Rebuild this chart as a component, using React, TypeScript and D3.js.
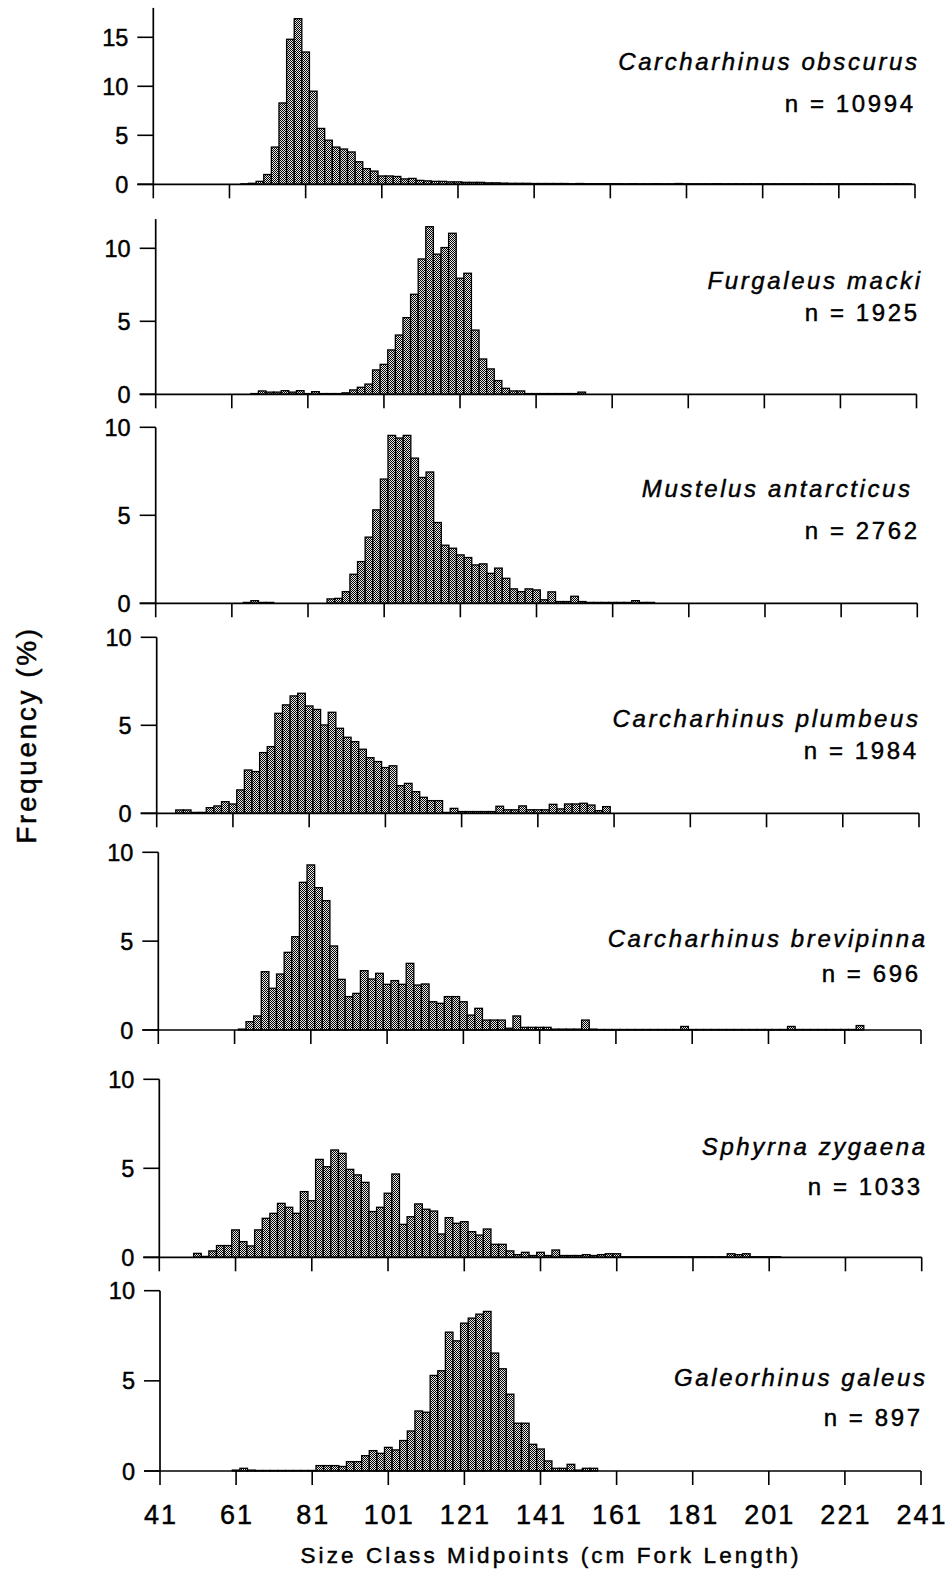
import React from "react";
import * as d3 from "d3";

// ---------- DATA (frequency %, 2-cm size classes; first value at given midpoint) ----------
const speciesNames = [
  "Carcharhinus obscurus",
  "Furgaleus macki",
  "Mustelus antarcticus",
  "Carcharhinus plumbeus",
  "Carcharhinus brevipinna",
  "Sphyrna zygaena",
  "Galeorhinus galeus",
];
const sampleSizes = ["n = 10994", "n = 1925", "n = 2762", "n = 1984", "n = 696", "n = 1033", "n = 897"];

const xTickValues = [41, 61, 81, 101, 121, 141, 161, 181, 201, 221, 241];

const obscurusStart = 65;
const obscurusFreq = [
  0.05, 0.1, 0.3, 1.0, 3.8, 8.3, 14.8, 16.9, 13.5, 9.5, 5.7, 4.5, 3.8, 3.6, 3.3, 2.3, 1.6, 1.35,
  0.85, 0.85, 0.8, 0.55, 0.6, 0.4, 0.35, 0.3, 0.3, 0.25, 0.25, 0.2, 0.2, 0.2, 0.15, 0.15, 0.12,
  0.1, 0.1, 0.1, 0.08, 0.08, 0.08, 0.08, 0.08, 0.06, 0.08, 0.06, 0.06, 0.06, 0.06, 0.06, 0.05,
  0.06, 0.05, 0.05, 0.06, 0.05, 0.05, 0.08, 0.05, 0.05, 0.05, 0.05, 0.06, 0.05, 0.05, 0.05, 0.05,
  0.05, 0.05, 0.05, 0.05, 0.05, 0.05, 0.05, 0.05, 0.05, 0.05, 0.05, 0.05, 0.05, 0.05, 0.05, 0.05,
  0.05, 0.05, 0.05, 0.05, 0.05,
];

const mackiStart = 67;
const mackiFreq = [
  0.05, 0.23, 0.15, 0.15, 0.25, 0.15, 0.25, 0.05, 0.18, 0.05, 0.05, 0.05, 0.1, 0.3, 0.48, 0.7,
  1.67, 2.05, 3.04, 4.06, 5.25, 6.85, 9.27, 11.48, 9.6, 10.05, 11.03, 7.95, 8.29, 4.4, 2.42,
  1.74, 0.94, 0.41, 0.23, 0.23, 0.05, 0.05, 0.05, 0.05, 0.05, 0.05, 0.05, 0.15,
];

const antarcticusStart = 65;
const antarcticusFreq = [
  0.05, 0.15, 0.05, 0.05, 0, 0, 0, 0, 0, 0, 0, 0.25, 0.28, 0.66, 1.65, 2.37, 3.76, 5.31, 7.06,
  9.54, 9.39, 9.54, 8.25, 7.15, 7.46, 4.59, 3.3, 3.13, 2.75, 2.6, 2.18, 2.24, 1.7, 2.0, 1.42,
  0.82, 0.66, 0.82, 0.76, 0.2, 0.65, 0.1, 0.1, 0.4, 0.1, 0.05, 0.05, 0.05, 0.05, 0.05, 0.05,
  0.15, 0.05, 0.05,
];

const plumbeusStart = 47;
const plumbeusFreq = [
  0.19, 0.19, 0.05, 0.05, 0.32, 0.42, 0.66, 0.53, 1.33, 2.46, 2.37, 3.45, 3.79, 5.68, 6.16,
  6.67, 6.82, 6.1, 5.9, 5.02, 5.74, 4.83, 4.32, 4.07, 3.64, 3.16, 2.94, 2.6, 2.7, 1.57, 1.7,
  1.23, 0.91, 0.72, 0.72, 0.05, 0.28, 0.1, 0.1, 0.1, 0.1, 0.1, 0.4, 0.2, 0.2, 0.42, 0.2, 0.2,
  0.2, 0.51, 0.25, 0.53, 0.53, 0.57, 0.47, 0.15, 0.38,
];

const brevipinnaStart = 63;
const brevipinnaFreq = [
  0.05, 0.47, 0.79, 3.28, 2.35, 3.15, 4.37, 5.25, 8.31, 9.29, 8.01, 7.28, 4.73, 2.85, 1.88,
  2.06, 3.34, 2.87, 3.19, 2.57, 2.78, 2.57, 3.75, 2.53, 2.59, 1.59, 1.5, 1.88, 1.88, 1.59, 0.84,
  1.22, 0.56, 0.56, 0.56, 0.1, 0.79, 0.15, 0.15, 0.15, 0.15, 0.05, 0.05, 0.05, 0.05, 0.56, 0.05,
  0.03, 0.03, 0.03, 0.03, 0.03, 0.03, 0.03, 0.03, 0.03, 0.03, 0.03, 0.2, 0.03, 0.03, 0.03, 0.03,
  0.03, 0.03, 0.03, 0.03, 0.03, 0.03, 0.03, 0.03, 0.03, 0.2, 0.03, 0.03, 0.03, 0.03, 0.03, 0.03,
  0.03, 0.03, 0.25,
];

const zygaenaStart = 51;
const zygaenaFreq = [
  0.22, 0.05, 0.36, 0.66, 0.66, 1.54, 0.88, 0.64, 1.54, 2.19, 2.47, 3.03, 2.81, 2.47, 3.69,
  3.18, 5.5, 5.09, 6.03, 5.84, 4.94, 4.63, 4.21, 2.57, 2.81, 3.6, 4.68, 1.85, 2.28, 3.0, 2.7,
  2.6, 1.31, 2.23, 1.91, 2.0, 1.44, 1.25, 1.59, 0.73, 0.73, 0.36, 0.15, 0.28, 0.1, 0.28, 0.1,
  0.41, 0.1, 0.1, 0.1, 0.15, 0.1, 0.15, 0.2, 0.2, 0.03, 0.03, 0.03, 0.03, 0.03, 0.03, 0.03,
  0.03, 0.03, 0.03, 0.03, 0.03, 0.03, 0.03, 0.2, 0.15, 0.2, 0.03, 0.03, 0.03, 0.03,
];

const galeusStart = 61;
const galeusFreq = [
  0.05, 0.15, 0.05, 0.03, 0.03, 0.03, 0.03, 0.03, 0.03, 0.03, 0.03, 0.3, 0.3, 0.3, 0.25, 0.52,
  0.52, 0.85, 1.13, 0.98, 1.31, 1.17, 1.69, 2.22, 3.33, 3.26, 5.3, 5.56, 7.7, 7.22, 8.2, 8.48,
  8.7, 8.85, 6.54, 5.67, 4.26, 2.65, 2.65, 1.48, 1.22, 0.56, 0.15, 0.15, 0.37, 0.05, 0.15, 0.15,
];

const seriesStarts = [obscurusStart, mackiStart, antarcticusStart, plumbeusStart, brevipinnaStart, zygaenaStart, galeusStart];
const seriesFreqs = [obscurusFreq, mackiFreq, antarcticusFreq, plumbeusFreq, brevipinnaFreq, zygaenaFreq, galeusFreq];
const yMaxes = [18, 12, 10, 10, 10, 10, 10];
const yTickSets = [[0, 5, 10, 15], [0, 5, 10], [0, 5, 10], [0, 5, 10], [0, 5, 10], [0, 5, 10], [0, 5, 10]];

// ---------- LAYOUT ----------
const layout = [
  { zeroY: 184.3, unit: 9.8, x0: 153.3, x1: 915, nameX: 917, nameY: 70, nX: 913, nY: 112 },
  { zeroY: 394.3, unit: 14.6, x0: 155.7, x1: 916.5, nameX: 920, nameY: 289, nX: 917, nY: 320.5 },
  { zeroY: 603.3, unit: 17.6, x0: 155.7, x1: 917.3, nameX: 910, nameY: 497, nX: 917, nY: 539 },
  { zeroY: 813.3, unit: 17.6, x0: 156.7, x1: 919, nameX: 918, nameY: 727, nX: 916, nY: 759 },
  { zeroY: 1030, unit: 17.77, x0: 158.3, x1: 921, nameX: 925, nameY: 946.5, nX: 918, nY: 981.5 },
  { zeroY: 1257.3, unit: 17.8, x0: 159.3, x1: 921.7, nameX: 925, nameY: 1155, nX: 920, nY: 1195 },
  { zeroY: 1471, unit: 18.03, x0: 160, x1: 921, nameX: 925, nameY: 1386, nX: 920, nY: 1426 },
];

const FONT = "'Liberation Sans', Arial, Helvetica, sans-serif";
const TEXT_STROKE = 0.45;

function Panel({ idx }: { idx: number }) {
  const L = layout[idx];
  const yMax = yMaxes[idx];
  const x = d3.scaleLinear().domain([41, 241]).range([L.x0, L.x1]);
  const y = d3.scaleLinear().domain([0, yMax]).range([L.zeroY, L.zeroY - yMax * L.unit]);
  const start = seriesStarts[idx];
  const freqs = seriesFreqs[idx];
  const bars = freqs.map((v, i) => ({ mid: start + 2 * i, v })).filter((d) => d.v > 0);
  const isLast = idx === layout.length - 1;
  const LS = 2.6;
  return (
    <g>
      {bars.map((d, i) => (
        <rect
          key={i}
          x={x(d.mid - 1)}
          y={y(d.v)}
          width={x(d.mid + 1) - x(d.mid - 1)}
          height={Math.max(0.01, y(0) - y(d.v))}
          fill="url(#checker)"
          stroke="#000"
          strokeWidth={1.3}
        />
      ))}
      {/* x axis */}
      <line x1={x(41) - 16} x2={x(241)} y1={y(0)} y2={y(0)} stroke="#000" strokeWidth={1.7} />
      {xTickValues.map((t) => (
        <line key={t} x1={x(t)} x2={x(t)} y1={y(0)} y2={y(0) + 14} stroke="#000" strokeWidth={1.6} />
      ))}
      {/* y axis */}
      <line x1={x(41)} x2={x(41)} y1={y(0)} y2={y(yMax)} stroke="#000" strokeWidth={1.7} />
      {yTickSets[idx].map((t) => (
        <g key={t}>
          <line x1={x(41) - 16} x2={x(41)} y1={y(t)} y2={y(t)} stroke="#000" strokeWidth={1.6} />
          <text
            x={x(41) - 25}
            y={y(t) + 8.5}
            textAnchor="end"
            fontFamily={FONT}
            fontSize={23.5}
            fill="#000"
            stroke="#000"
            strokeWidth={TEXT_STROKE}
          >
            {t}
          </text>
        </g>
      ))}
      {isLast &&
        xTickValues.map((t) => (
          <text
            key={"l" + t}
            x={x(t) + 1}
            y={1524}
            textAnchor="middle"
            fontFamily={FONT}
            fontSize={27}
            style={{ letterSpacing: "2px" }}
            fill="#000"
            stroke="#000"
            strokeWidth={TEXT_STROKE}
          >
            {t}
          </text>
        ))}
      <text
        x={L.nameX + LS}
        y={L.nameY}
        textAnchor="end"
        fontFamily={FONT}
        fontStyle="italic"
        fontSize={24}
        style={{ letterSpacing: `${LS}px` }}
        fill="#000"
        stroke="#000"
        strokeWidth={TEXT_STROKE}
      >
        {speciesNames[idx]}
      </text>
      <text
        x={L.nX + LS}
        y={L.nY}
        textAnchor="end"
        fontFamily={FONT}
        fontSize={24}
        style={{ letterSpacing: `${LS}px` }}
        fill="#000"
        stroke="#000"
        strokeWidth={TEXT_STROKE}
      >
        {sampleSizes[idx]}
      </text>
    </g>
  );
}

export default function App() {
  return (
    <svg
      width={948}
      height={1570}
      viewBox="0 0 948 1570"
      style={{ position: "absolute", left: 0, top: 0, display: "block", background: "#fff" }}
    >
      <defs>
        <pattern id="checker" width={2} height={2} patternUnits="userSpaceOnUse">
          <rect width={2} height={2} fill="#e8e8e8" />
          <rect x={0} y={0} width={1} height={1} fill="#000" />
          <rect x={1} y={1} width={1} height={1} fill="#000" />
        </pattern>
      </defs>
      <rect width={948} height={1570} fill="#fff" />
      {layout.map((_, i) => (
        <Panel key={i} idx={i} />
      ))}
      <text
        x={551}
        y={1563}
        textAnchor="middle"
        fontFamily={FONT}
        fontSize={22.5}
        style={{ letterSpacing: "3.1px" }}
        fill="#000"
        stroke="#000"
        strokeWidth={TEXT_STROKE}
      >
        Size Class Midpoints (cm Fork Length)
      </text>
      <text
        transform="translate(36,735) rotate(-90)"
        textAnchor="middle"
        fontFamily={FONT}
        fontSize={28}
        style={{ letterSpacing: "2.6px" }}
        fill="#000"
        stroke="#000"
        strokeWidth={TEXT_STROKE}
      >
        Frequency (%)
      </text>
    </svg>
  );
}
